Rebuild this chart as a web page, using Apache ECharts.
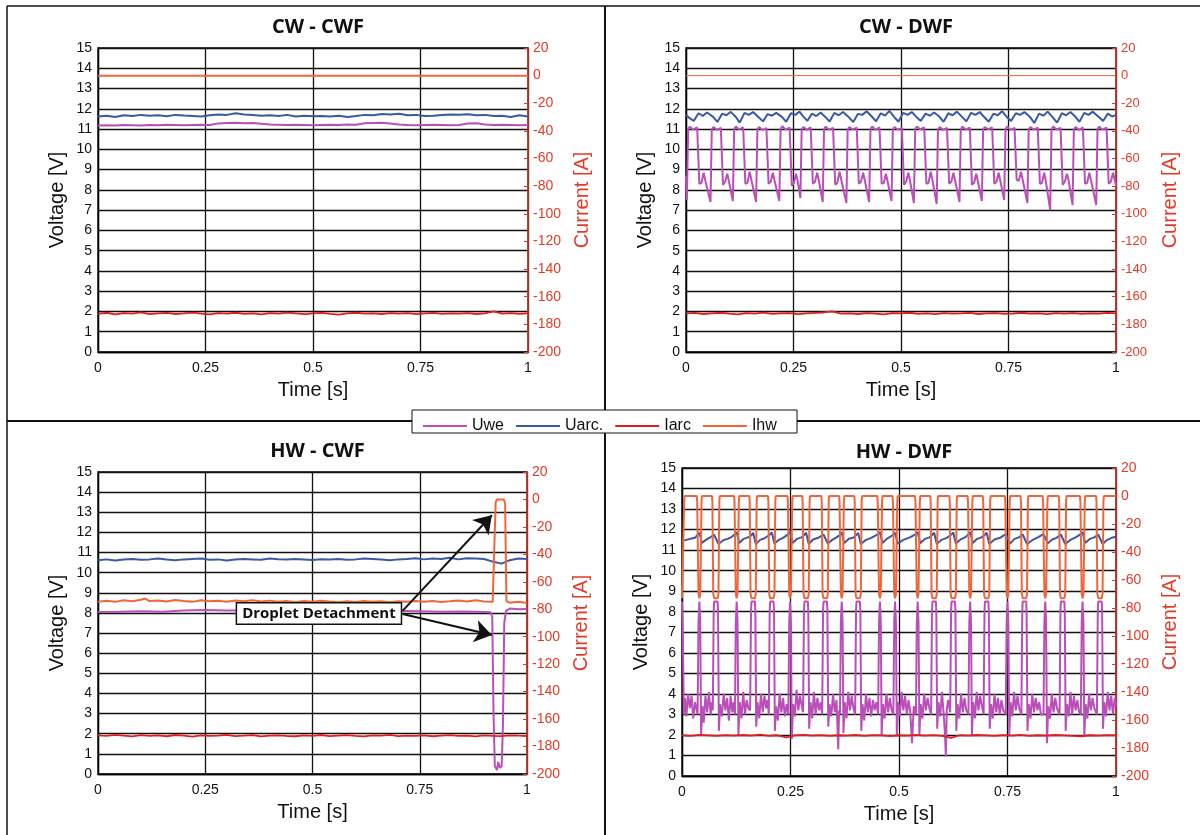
<!DOCTYPE html>
<html>
<head>
<meta charset="utf-8">
<title>Welding signals</title>
<script src="https://cdn.jsdelivr.net/npm/echarts@6/dist/echarts.min.js"></script>
<style>
html,body{margin:0;padding:0;background:#fff;}
#chart{width:1200px;height:835px;}
</style>
</head>
<body>
<div id="chart"></div>
<script>
// ---- data (time in s, voltages in V, currents in A) ----
var seriesNames = ['Uwe', 'Uarc.', 'Iarc', 'Ihw'];
var panelTitles = ['CW - CWF', 'CW - DWF', 'HW - CWF', 'HW - DWF'];

var tGrid = [0,0.02,0.04,0.06,0.08,0.1,0.12,0.14,0.16,0.18,0.2,0.22,0.24,0.26,0.28,0.3,0.32,0.34,0.36,0.38,0.4,0.42,0.44,0.46,0.48,0.5,0.52,0.54,0.56,0.58,0.6,0.62,0.64,0.66,0.68,0.7,0.72,0.74,0.76,0.78,0.8,0.82,0.84,0.86,0.88,0.9,0.92,0.94,0.96,0.98,1];

// CW - CWF
var cwcwfUwe = [11.18,11.19,11.18,11.2,11.19,11.18,11.2,11.19,11.21,11.2,11.19,11.2,11.21,11.2,11.28,11.3,11.31,11.29,11.3,11.26,11.22,11.21,11.2,11.21,11.2,11.19,11.2,11.21,11.2,11.22,11.21,11.29,11.3,11.31,11.28,11.22,11.2,11.19,11.2,11.21,11.2,11.19,11.2,11.27,11.29,11.22,11.2,11.21,11.2,11.19,11.2];
var cwcwfUarc = [11.62,11.66,11.6,11.68,11.64,11.7,11.66,11.68,11.63,11.7,11.67,11.65,11.62,11.68,11.72,11.7,11.78,11.72,11.7,11.66,11.68,11.64,11.7,11.62,11.66,11.63,11.65,11.62,11.66,11.6,11.64,11.7,11.68,11.74,11.72,11.76,11.68,11.7,11.64,11.66,11.7,11.72,11.71,11.73,11.68,11.7,11.64,11.66,11.6,11.68,11.62];
var cwcwfIarc = [-172.4,-171.6,-172.8,-171.9,-172.2,-171.4,-172.6,-172,-171.7,-172.5,-172.1,-171.5,-172.3,-172.8,-171.9,-172.2,-171.6,-172.4,-172,-172.7,-171.8,-172.3,-171.5,-172.1,-172.6,-172,-171.7,-172.4,-172.9,-172.1,-171.6,-172.3,-172,-172.5,-171.8,-172.2,-171.9,-172.6,-172.1,-171.7,-172.4,-172,-172.3,-171.8,-172.5,-172.1,-170.6,-172.2,-171.9,-172.4,-172];
var cwcwfIhw = [[0,0],[1,0]];

// CW - DWF
var cwdwfUwe = [[0,8.7],[0.002,7.5],
[0.005,11],[0.009,11.12],[0.017,10.97],[0.026,11.08],[0.029,11.14],[0.031,8.3],[0.036,8.35],[0.041,8.85],[0.045,8.45],[0.057,7.4],
[0.06,11],[0.064,11.1],[0.072,10.96],[0.081,11.06],[0.084,11.15],[0.086,8.25],[0.091,8.4],[0.096,8.8],[0.1,8.4],[0.109,7.45],
[0.112,11],[0.116,11.12],[0.124,10.98],[0.133,11.08],[0.136,11.12],[0.138,8.3],[0.143,8.35],[0.148,8.9],[0.152,8.5],[0.163,7.4],
[0.166,11],[0.17,11.1],[0.178,10.95],[0.187,11.05],[0.19,11.13],[0.192,8.3],[0.197,8.4],[0.202,8.85],[0.206,8.45],[0.217,7.45],
[0.22,11],[0.224,11.14],[0.232,10.97],[0.241,11.07],[0.244,11.12],[0.246,8.2],[0.251,8.35],[0.256,8.8],[0.26,8.4],[0.266,7.6],
[0.269,11],[0.273,11.1],[0.281,10.96],[0.29,11.08],[0.293,11.15],[0.295,8.3],[0.3,8.4],[0.305,8.85],[0.309,8.45],[0.318,7.4],
[0.321,11],[0.325,11.12],[0.333,10.97],[0.342,11.06],[0.345,11.13],[0.347,8.25],[0.352,8.35],[0.357,8.9],[0.361,8.5],[0.373,7.35],
[0.376,11],[0.38,11.1],[0.388,10.98],[0.397,11.07],[0.4,11.12],[0.402,8.3],[0.407,8.4],[0.412,8.85],[0.416,8.45],[0.426,7.4],
[0.429,11],[0.433,11.13],[0.441,10.96],[0.45,11.08],[0.453,11.14],[0.455,8.3],[0.46,8.35],[0.465,8.8],[0.469,8.4],[0.478,7.45],
[0.481,11],[0.485,11.1],[0.493,10.97],[0.502,11.06],[0.505,11.12],[0.507,8.25],[0.512,8.4],[0.517,8.85],[0.521,8.45],[0.53,7.35],
[0.533,11],[0.537,11.12],[0.545,10.98],[0.554,11.08],[0.557,11.13],[0.559,8.3],[0.564,8.35],[0.569,8.9],[0.573,8.5],[0.583,7.3],
[0.586,11],[0.59,11.1],[0.598,10.96],[0.607,11.06],[0.61,11.14],[0.612,8.3],[0.617,8.4],[0.622,8.85],[0.626,8.45],[0.636,7.4],
[0.639,11],[0.643,11.12],[0.651,10.97],[0.66,11.07],[0.663,11.12],[0.665,8.25],[0.67,8.35],[0.675,8.8],[0.679,8.4],[0.688,7.45],
[0.691,11],[0.695,11.1],[0.703,10.98],[0.712,11.08],[0.715,11.15],[0.717,8.3],[0.722,8.4],[0.727,8.85],[0.731,8.45],[0.74,7.5],
[0.743,11],[0.747,11.13],[0.755,10.96],[0.764,11.06],[0.767,11.12],[0.769,8.5],[0.774,8.45],[0.779,8.9],[0.783,8.5],[0.794,7.35],
[0.797,11],[0.801,11.1],[0.809,10.97],[0.818,11.07],[0.821,11.13],[0.823,8.3],[0.828,8.35],[0.833,8.85],[0.837,8.4],[0.847,7],
[0.85,11],[0.854,11.12],[0.862,10.98],[0.871,11.06],[0.874,11.14],[0.876,8.25],[0.881,8.4],[0.886,8.8],[0.89,8.45],[0.899,7.25],
[0.902,11],[0.906,11.1],[0.914,10.96],[0.923,11.08],[0.926,11.12],[0.928,8.3],[0.933,8.35],[0.938,8.85],[0.942,8.45],[0.954,7.25],
[0.957,11],[0.961,11.12],[0.969,10.97],[0.978,11.07],[0.981,11.13],[0.983,8.3],[0.988,8.4],[0.993,8.85],[0.997,8.5],[1,8.2]];
var cwdwfUarc = [[0,11.7],
[0.008,11.55],[0.018,11.4],[0.029,11.78],[0.039,11.65],[0.049,11.82],
[0.063,11.6],[0.073,11.35],[0.084,11.76],[0.094,11.68],[0.104,11.85],
[0.115,11.62],[0.125,11.32],[0.136,11.8],[0.146,11.7],[0.156,11.84],
[0.169,11.58],[0.179,11.38],[0.19,11.74],[0.2,11.66],[0.21,11.8],
[0.223,11.6],[0.233,11.36],[0.244,11.78],[0.254,11.7],[0.264,11.86],
[0.272,11.64],[0.282,11.4],[0.293,11.76],[0.303,11.64],[0.313,11.82],
[0.324,11.6],[0.334,11.37],[0.345,11.8],[0.355,11.68],[0.365,11.84],
[0.379,11.58],[0.389,11.35],[0.4,11.75],[0.41,11.7],[0.42,11.88],
[0.432,11.62],[0.442,11.38],[0.453,11.78],[0.463,11.66],[0.473,11.9],
[0.484,11.6],[0.494,11.36],[0.505,11.8],[0.515,11.7],[0.525,11.84],
[0.536,11.6],[0.546,11.4],[0.557,11.76],[0.567,11.66],[0.577,11.82],
[0.589,11.62],[0.599,11.36],[0.61,11.78],[0.62,11.68],[0.63,11.86],
[0.642,11.6],[0.652,11.38],[0.663,11.8],[0.673,11.7],[0.683,11.84],
[0.694,11.58],[0.704,11.36],[0.715,11.76],[0.725,11.68],[0.735,11.88],
[0.746,11.6],[0.756,11.4],[0.767,11.78],[0.777,11.7],[0.787,11.84],
[0.8,11.6],[0.81,11.3],[0.821,11.76],[0.831,11.66],[0.841,11.86],
[0.853,11.58],[0.863,11.32],[0.874,11.78],[0.884,11.68],[0.894,11.84],
[0.905,11.62],[0.915,11.36],[0.926,11.8],[0.936,11.7],[0.946,11.86],
[0.96,11.6],[0.97,11.4],[0.981,11.76],[0.991,11.62],[1,11.7]];
var cwdwfIarc = [-172.1,-171.7,-172.5,-172,-171.6,-172.3,-172.8,-171.9,-172.2,-171.5,-172.4,-172,-171.8,-172.6,-172.1,-171.7,-171.4,-170.6,-172.3,-172,-172.5,-171.8,-172.2,-172.7,-171.9,-172.1,-171.6,-172.4,-172,-172.6,-171.8,-172.3,-172.1,-171.7,-172.5,-172,-171.9,-172.4,-172.2,-171.6,-172.3,-172,-172.6,-171.9,-172.2,-171.8,-172.4,-172,-172.3,-171.7,-172.1];
var cwdwfIhw = [[0,0],[1,0]];

// HW - CWF
var hwcwfUwe = [[0,8.05],[0.05,8.06],[0.1,8.08],[0.15,8.06],[0.2,8.12],[0.25,8.14],[0.3,8.12],[0.35,8.13],[0.4,8.1],[0.45,8.11],[0.5,8.1],[0.55,8.12],[0.6,8.1],[0.65,8.11],[0.7,8.1],[0.75,8.08],[0.8,8.06],[0.85,8.07],[0.9,8.05],[0.915,8.04],[0.919,7.8],[0.922,3],[0.925,0.4],[0.93,0.2],[0.933,0.6],[0.937,0.3],[0.941,0.4],[0.944,2.5],[0.947,7.5],[0.951,8.1],[0.96,8.22],[0.98,8.18],[1,8.2]];
var hwcwfUarc = [10.62,10.66,10.6,10.65,10.68,10.64,10.66,10.7,10.65,10.62,10.66,10.68,10.7,10.64,10.66,10.6,10.65,10.68,10.66,10.64,10.7,10.67,10.65,10.68,10.66,10.63,10.67,10.65,10.68,10.64,10.66,10.7,10.68,10.65,10.62,10.66,10.68,10.72,10.66,10.7,10.68,10.74,10.66,10.72,10.7,10.68,10.55,10.45,10.62,10.7,10.68];
var hwcwfIarc = [-171.8,-172.3,-171.5,-172,-172.6,-171.7,-172.2,-171.9,-172.5,-171.6,-172.1,-172.7,-171.8,-172.3,-172,-171.5,-172.4,-172.1,-171.7,-172.6,-172,-171.8,-172.3,-172.5,-171.9,-172.2,-171.6,-172.4,-172,-171.7,-172.3,-172.6,-171.9,-172.1,-171.5,-172.4,-172,-172.2,-171.8,-172.5,-172.1,-171.7,-172.3,-172,-172.6,-171.9,-172.2,-172.4,-171.8,-172.1,-172.3];
var hwcwfIhw = [[0,-74.5],[0.02,-73.8],[0.04,-74.6],[0.06,-73.5],[0.08,-74.2],[0.1,-73],[0.11,-72.2],[0.12,-74],[0.14,-73.6],[0.16,-74.4],[0.18,-73.2],[0.2,-74],[0.22,-74.6],[0.24,-73.4],[0.26,-74.2],[0.28,-73.8],[0.3,-74.5],[0.32,-73.6],[0.34,-74.1],[0.36,-73.4],[0.38,-74.3],[0.4,-73.7],[0.42,-74.5],[0.44,-73.9],[0.46,-74.8],[0.48,-74],[0.5,-74.6],[0.52,-73.8],[0.54,-74.4],[0.56,-74.9],[0.58,-74.2],[0.6,-74.7],[0.62,-74],[0.64,-74.6],[0.66,-74.2],[0.68,-74.8],[0.7,-74.1],[0.72,-74.6],[0.74,-73.9],[0.76,-74.5],[0.78,-74],[0.8,-74.7],[0.82,-74.2],[0.84,-73.6],[0.86,-74.4],[0.88,-73.5],[0.9,-74.3],[0.92,-74.6],[0.924,-74],[0.927,-2],[0.93,0],[0.946,0],[0.949,-3],[0.952,-74],[0.96,-75.2],[0.98,-74.6],[1,-75.4]];

// HW - DWF
var hwdwfUwe = [[0,8.5],[0.002,7],[0.004,3],[0.007,3.8],[0.01,2.9],[0.014,4],[0.018,3.3],[0.022,3.9],[0.026,2.8],[0.03,3.6],
[0.036,3],[0.038,7.5],[0.04,8.5],[0.042,7.5],[0.044,2],
[0.047,3.4],[0.05,2.6],[0.054,3.9],[0.058,3.1],[0.062,4.1],[0.066,3],[0.069,3.6],
[0.071,3.2],[0.073,8],[0.074,8.5],[0.082,8.5],[0.083,8],[0.085,2.2],
[0.088,3.5],[0.092,2.9],[0.096,4],[0.1,3.2],[0.104,3.8],[0.108,2.7],[0.112,3.9],[0.116,3.1],[0.119,3.6],
[0.122,3],[0.124,7.5],[0.126,8.5],[0.128,7.5],[0.13,2],
[0.133,3.6],[0.137,2.8],[0.141,4.1],[0.145,3],[0.149,3.7],[0.153,3.3],
[0.157,3.2],[0.159,8],[0.16,8.5],[0.168,8.5],[0.169,8],[0.171,2.4],
[0.174,3.6],[0.178,2.8],[0.182,4],[0.186,3.1],[0.19,3.9],[0.194,3.3],[0.197,3.7],
[0.2,3],[0.202,8],[0.203,8.5],[0.211,8.5],[0.212,8],[0.214,2.2],
[0.217,3.4],[0.221,2.7],[0.225,4],[0.229,3.1],[0.233,3.8],[0.237,2.9],[0.241,3.5],
[0.245,3],[0.247,7.5],[0.249,8.5],[0.251,7.5],[0.253,1.8],
[0.256,3.5],[0.26,2.9],[0.264,4.2],[0.268,3.2],[0.272,3.9],[0.276,3.4],
[0.279,3.1],[0.281,8],[0.282,8.5],[0.29,8.5],[0.291,8],[0.293,2.3],
[0.296,3.6],[0.3,2.8],[0.304,4.1],[0.308,3],[0.312,3.8],[0.316,3.2],[0.32,3.6],
[0.323,3],[0.325,8],[0.326,8.5],[0.334,8.5],[0.335,8],[0.337,2.4],
[0.34,3.5],[0.344,2.9],[0.348,4],[0.352,3.1],[0.356,3.7],[0.36,1.3],[0.362,3.2],
[0.364,3],[0.366,7.5],[0.368,8.5],[0.37,7.5],[0.372,2.1],
[0.375,3.6],[0.379,2.8],[0.383,4.1],[0.387,3.2],[0.391,3.9],[0.395,3.3],
[0.399,3],[0.401,8],[0.402,8.5],[0.41,8.5],[0.411,8],[0.413,2.2],
[0.416,3.5],[0.42,2.7],[0.424,4],[0.428,3.1],[0.432,3.8],[0.436,2.9],[0.44,3.7],[0.444,3.2],[0.448,3.6],
[0.452,3],[0.454,7.5],[0.456,8.5],[0.458,7.5],[0.46,2],
[0.463,3.5],[0.467,2.8],[0.471,4],[0.475,3.1],[0.479,3.8],[0.483,3.2],
[0.487,3],[0.489,7.5],[0.491,8.5],[0.493,7.5],[0.495,2],
[0.498,3.6],[0.502,2.9],[0.506,4.1],[0.51,3.2],[0.514,3.9],[0.518,3],[0.522,3.7],[0.526,3.1],[0.53,1.6],[0.534,3.4],
[0.539,3],[0.541,7.5],[0.543,8.5],[0.545,7.5],[0.547,2],
[0.55,3.5],[0.554,2.8],[0.558,4],[0.562,3.2],[0.566,3.8],[0.57,3.3],
[0.574,3],[0.576,8],[0.577,8.5],[0.585,8.5],[0.586,8],[0.588,2.3],
[0.591,3.6],[0.595,2.9],[0.599,4.1],[0.603,3],[0.606,2],[0.608,0.95],[0.61,3.2],[0.613,3.7],
[0.618,3.1],[0.62,8],[0.621,8.5],[0.629,8.5],[0.63,8],[0.632,2.2],
[0.635,3.5],[0.639,2.8],[0.643,4],[0.647,3.1],[0.651,3.8],[0.655,3.2],
[0.66,3],[0.662,7.5],[0.664,8.5],[0.666,7.5],[0.668,2],
[0.671,3.6],[0.675,2.8],[0.679,4.1],[0.683,3.2],[0.687,3.9],[0.691,3.4],
[0.695,3],[0.697,8],[0.698,8.5],[0.706,8.5],[0.707,8],[0.709,2.3],
[0.712,3.5],[0.716,2.8],[0.72,4],[0.724,3.1],[0.728,3.8],[0.732,3],[0.736,3.7],[0.74,3.2],
[0.746,3],[0.748,7.5],[0.75,8.5],[0.752,7.5],[0.754,2],
[0.757,3.6],[0.761,2.9],[0.765,4.1],[0.769,3.2],[0.773,3.9],[0.777,3.3],
[0.782,3],[0.784,8],[0.785,8.5],[0.793,8.5],[0.794,8],[0.796,2.2],
[0.799,3.5],[0.803,2.8],[0.807,4],[0.811,3.1],[0.815,3.8],[0.819,3.2],[0.823,3.6],[0.827,3],
[0.833,3],[0.835,7.5],[0.837,8.5],[0.839,7.5],[0.841,1.6],
[0.844,3.4],[0.848,2.8],[0.852,4],[0.856,3.1],[0.86,3.8],[0.864,3.3],
[0.87,3],[0.872,8],[0.873,8.5],[0.881,8.5],[0.882,8],[0.884,2.2],
[0.887,3.5],[0.891,2.9],[0.895,4.1],[0.899,3],[0.903,3.9],[0.907,3.2],[0.911,3.7],[0.915,3.1],
[0.919,3],[0.921,7.5],[0.923,8.5],[0.925,7.5],[0.927,1.9],
[0.93,3.5],[0.934,2.8],[0.938,4],[0.942,3.2],[0.946,3.8],[0.95,3.3],
[0.956,3],[0.958,8],[0.959,8.5],[0.967,8.5],[0.968,8],[0.97,2.3],
[0.973,3.6],[0.977,2.9],[0.981,4.1],[0.985,3.2],[0.989,3.9],[0.993,3],[0.997,3.8],[1,3.4]];
var hwdwfUarc = [[0,11.45],[0.01,11.5],[0.02,11.55],[0.03,11.6],[0.036,11.75],
[0.04,11.85],[0.046,11.35],[0.055,11.5],[0.065,11.62],[0.074,11.75],
[0.078,11.82],[0.084,11.3],[0.095,11.48],[0.105,11.55],[0.115,11.65],[0.122,11.78],
[0.126,11.88],[0.132,11.35],[0.142,11.55],[0.152,11.62],[0.16,11.72],
[0.164,11.85],[0.17,11.3],[0.18,11.5],[0.19,11.58],[0.203,11.76],
[0.207,11.86],[0.213,11.32],[0.223,11.5],[0.233,11.6],[0.245,11.78],
[0.249,11.9],[0.255,11.35],[0.265,11.55],[0.275,11.62],[0.282,11.74],
[0.286,11.85],[0.292,11.3],[0.302,11.52],[0.314,11.6],[0.326,11.76],
[0.33,11.85],[0.336,11.32],[0.346,11.5],[0.356,11.62],[0.364,11.75],
[0.368,11.86],[0.374,11.34],[0.384,11.55],[0.394,11.6],[0.402,11.74],
[0.406,11.84],[0.412,11.3],[0.424,11.5],[0.436,11.6],[0.452,11.78],
[0.456,11.88],[0.462,11.35],[0.472,11.55],[0.487,11.75],
[0.491,11.85],[0.497,11.32],[0.51,11.5],[0.525,11.62],[0.539,11.78],
[0.543,11.88],[0.549,11.34],[0.56,11.55],[0.57,11.62],[0.577,11.75],
[0.581,11.85],[0.587,11.3],[0.598,11.5],[0.61,11.6],[0.621,11.76],
[0.625,11.86],[0.631,11.32],[0.642,11.52],[0.652,11.62],[0.66,11.76],
[0.664,11.88],[0.67,11.35],[0.68,11.55],[0.69,11.62],[0.698,11.75],
[0.702,11.85],[0.708,11.3],[0.72,11.52],[0.733,11.6],[0.746,11.78],
[0.75,11.86],[0.756,11.32],[0.766,11.55],[0.776,11.62],[0.785,11.76],
[0.789,11.85],[0.795,11.3],[0.808,11.5],[0.82,11.62],[0.833,11.78],
[0.837,11.86],[0.843,11.33],[0.853,11.52],[0.863,11.6],[0.873,11.76],
[0.877,11.85],[0.883,11.3],[0.895,11.5],[0.907,11.62],[0.919,11.78],
[0.923,11.88],[0.929,11.35],[0.94,11.55],[0.95,11.62],[0.959,11.76],
[0.963,11.85],[0.969,11.3],[0.98,11.5],[0.99,11.6],[1,11.65]];
var hwdwfIarc = [-170.9,-171.3,-170.6,-171,-171.4,-170.8,-171.2,-170.7,-171.1,-170.5,-171.3,-170.9,-172.4,-171,-170.6,-171.2,-170.8,-171.4,-170.9,-171.1,-170.7,-171.3,-170.8,-171,-171.5,-170.9,-171.2,-170.6,-171.1,-170.8,-171.3,-172.8,-170.9,-171.2,-170.7,-171,-171.4,-170.8,-171.1,-170.6,-171.3,-170.9,-171.2,-170.7,-171,-171.4,-171.6,-170.9,-171.1,-170.8,-171];
var hwdwfIhw = [[0,-73],[0.003,-72],[0.005,-4],[0.006,0],
[0.034,0],[0.035,-4],[0.038,-70],[0.04,-73],[0.042,-70],[0.045,-4],[0.046,0],
[0.069,0],[0.07,-4],[0.072,-70],[0.074,-73],[0.082,-73],[0.084,-70],[0.086,-4],[0.087,0],
[0.12,0],[0.121,-4],[0.124,-70],[0.126,-73],[0.128,-70],[0.131,-4],[0.132,0],
[0.155,0],[0.156,-4],[0.158,-70],[0.16,-73],[0.168,-73],[0.17,-70],[0.172,-4],[0.173,0],
[0.198,0],[0.199,-4],[0.201,-70],[0.203,-73],[0.211,-73],[0.213,-70],[0.215,-4],[0.216,0],
[0.243,0],[0.244,-4],[0.247,-70],[0.249,-73],[0.251,-70],[0.254,-4],[0.255,0],
[0.277,0],[0.278,-4],[0.28,-70],[0.282,-73],[0.29,-73],[0.292,-70],[0.294,-4],[0.295,0],
[0.321,0],[0.322,-4],[0.324,-70],[0.326,-73],[0.334,-73],[0.336,-70],[0.338,-4],[0.339,0],
[0.362,0],[0.363,-4],[0.366,-70],[0.368,-73],[0.37,-70],[0.373,-4],[0.374,0],
[0.397,0],[0.398,-4],[0.4,-70],[0.402,-73],[0.41,-73],[0.412,-70],[0.414,-4],[0.415,0],
[0.45,0],[0.451,-4],[0.454,-70],[0.456,-73],[0.458,-70],[0.461,-4],[0.462,0],
[0.485,0],[0.486,-4],[0.489,-70],[0.491,-73],[0.493,-70],[0.496,-4],[0.497,0],
[0.537,0],[0.538,-4],[0.541,-70],[0.543,-73],[0.545,-70],[0.548,-4],[0.549,0],
[0.572,0],[0.573,-4],[0.575,-70],[0.577,-73],[0.585,-73],[0.587,-70],[0.589,-4],[0.59,0],
[0.616,0],[0.617,-4],[0.619,-70],[0.621,-73],[0.629,-73],[0.631,-70],[0.633,-4],[0.634,0],
[0.658,0],[0.659,-4],[0.662,-70],[0.664,-73],[0.666,-70],[0.669,-4],[0.67,0],
[0.693,0],[0.694,-4],[0.696,-70],[0.698,-73],[0.706,-73],[0.708,-70],[0.71,-4],[0.711,0],
[0.744,0],[0.745,-4],[0.748,-70],[0.75,-73],[0.752,-70],[0.755,-4],[0.756,0],
[0.78,0],[0.781,-4],[0.783,-70],[0.785,-73],[0.793,-73],[0.795,-70],[0.797,-4],[0.798,0],
[0.831,0],[0.832,-4],[0.835,-70],[0.837,-73],[0.839,-70],[0.842,-4],[0.843,0],
[0.868,0],[0.869,-4],[0.871,-70],[0.873,-73],[0.881,-73],[0.883,-70],[0.885,-4],[0.886,0],
[0.917,0],[0.918,-4],[0.921,-70],[0.923,-73],[0.925,-70],[0.928,-4],[0.929,0],
[0.954,0],[0.955,-4],[0.957,-70],[0.959,-73],[0.967,-73],[0.969,-70],[0.971,-4],[0.972,0],
[1,0]];

// ---- helpers ----
function zip(t, v) {
	return t.map(function(x, i){ return [x, v[i]]; });
}

var colors = {uwe:'#bb4fba', uarc:'#3b58a6', iarc:'#e11f1f', ihw:'#f0663a', axisRed:'#e23a27'};
var tickFont = 'Liberation Sans, Arial, sans-serif';

var panels = [
	{box:[98, 48, 430, 304], titleTop:12, uwe:zip(tGrid, cwcwfUwe), uarc:zip(tGrid, cwcwfUarc), iarc:zip(tGrid, cwcwfIarc), ihw:cwcwfIhw, ihwWidth:2, rightFont:14},
	{box:[686, 48, 430, 304], titleTop:12, uwe:cwdwfUwe, uarc:cwdwfUarc, iarc:zip(tGrid, cwdwfIarc), ihw:cwdwfIhw, ihwWidth:1, rightFont:13},
	{box:[98, 472, 429, 302], titleTop:436, uwe:hwcwfUwe, uarc:zip(tGrid, hwcwfUarc), iarc:zip(tGrid, hwcwfIarc), ihw:hwcwfIhw, ihwWidth:2, rightFont:14},
	{box:[682, 468, 434, 308], titleTop:437, uwe:hwdwfUwe, uarc:hwdwfUarc, iarc:zip(tGrid, hwdwfIarc), ihw:hwdwfIhw, ihwWidth:2, rightFont:14}
];

var grids = [], xAxes = [], yAxes = [], titles = [], series = [];

panels.forEach(function(p, i){
	grids.push({left:p.box[0], top:p.box[1], width:p.box[2], height:p.box[3],
		show:true, borderColor:'#000', borderWidth:1.3, backgroundColor:'transparent'});

	titles.push({text:panelTitles[i], left:p.box[0] + p.box[2] / 2, top:p.titleTop, textAlign:'center',
		textStyle:{fontFamily:'Open Sans', fontWeight:'bold', fontSize:20, color:'#111'}});

	xAxes.push({type:'value', gridIndex:i, min:0, max:1, interval:0.25,
		axisLine:{show:true, lineStyle:{color:'#000', width:1.3}},
		axisTick:{show:false},
		axisLabel:{color:'#111', fontSize:14, fontFamily:tickFont, margin:9},
		splitLine:{show:true, lineStyle:{color:'#111', width:1.3}},
		name:'Time [s]', nameLocation:'middle', nameGap:28,
		nameTextStyle:{color:'#111', fontSize:20, fontFamily:tickFont}});

	yAxes.push({type:'value', gridIndex:i, min:0, max:15, interval:1, position:'left',
		axisLine:{show:true, lineStyle:{color:'#000', width:1.3}},
		axisTick:{show:false},
		axisLabel:{color:'#111', fontSize:14, fontFamily:tickFont, margin:6},
		splitLine:{show:true, lineStyle:{color:'#111', width:1.3}},
		name:'Voltage [V]', nameLocation:'middle', nameRotate:90, nameGap:31,
		nameTextStyle:{color:'#111', fontSize:20, fontFamily:tickFont}});

	yAxes.push({type:'value', gridIndex:i, min:-200, max:20, interval:20, position:'right',
		axisLine:{show:true, lineStyle:{color:colors.axisRed, width:1.5}},
		axisTick:{show:true, length:4, inside:true, lineStyle:{color:colors.axisRed}},
		axisLabel:{color:colors.axisRed, fontSize:p.rightFont, fontFamily:tickFont, margin:5},
		splitLine:{show:false},
		name:'Current [A]', nameLocation:'middle', nameRotate:90, nameGap:44,
		nameTextStyle:{color:colors.axisRed, fontSize:20, fontFamily:tickFont}});

	var base = {type:'line', xAxisIndex:i, showSymbol:false, symbol:'none', animation:false};
	series.push(Object.assign({}, base, {name:'Uwe', yAxisIndex:2*i, data:p.uwe,
		lineStyle:{color:colors.uwe, width:2}, itemStyle:{color:colors.uwe}}));
	series.push(Object.assign({}, base, {name:'Uarc.', yAxisIndex:2*i, data:p.uarc,
		lineStyle:{color:colors.uarc, width:2}, itemStyle:{color:colors.uarc}}));
	series.push(Object.assign({}, base, {name:'Iarc', yAxisIndex:2*i+1, data:p.iarc,
		lineStyle:{color:colors.iarc, width:1.8}, itemStyle:{color:colors.iarc}}));
	series.push(Object.assign({}, base, {name:'Ihw', yAxisIndex:2*i+1, data:p.ihw,
		lineStyle:{color:colors.ihw, width:p.ihwWidth}, itemStyle:{color:colors.ihw}}));
});

// droplet detachment callout on the HW - CWF panel (voltage axis coordinates)
var callout = series[8];
callout.markLine = {
	silent:true, animation:false, symbol:['none', 'arrow'], symbolSize:17,
	label:{show:false},
	lineStyle:{color:'#111', width:2, type:'solid'},
	data:[
		[{coord:[0.71, 8.1]}, {coord:[0.918, 12.85]}],
		[{coord:[0.71, 7.95]}, {coord:[0.918, 6.9]}]
	]
};
callout.markPoint = {
	silent:true, animation:false,
	data:[{coord:[0.515, 7.97], symbol:'rect', symbolSize:1, itemStyle:{color:'rgba(0,0,0,0)'},
		label:{show:true, position:'inside', formatter:'Droplet Detachment', color:'#111',
			fontFamily:'Open Sans', fontWeight:'bold', fontSize:15,
			backgroundColor:'#fff', borderColor:'#111', borderWidth:1.5, padding:[3, 5, 2, 5]}}]
};

var chart = echarts.init(document.getElementById('chart'), null, {renderer:'canvas'});
chart.setOption({
	animation:false,
	backgroundColor:'#fff',
	title:titles,
	grid:grids,
	xAxis:xAxes,
	yAxis:yAxes,
	series:series,
	legend:{data:seriesNames, left:418, top:413, icon:'rect', itemWidth:44, itemHeight:2, itemGap:12,
		z:20, textStyle:{color:'#111', fontSize:16, fontFamily:tickFont}},
	graphic:[
		{type:'line', z:1, shape:{x1:7, y1:6, x2:1200, y2:6}, style:{stroke:'#111', lineWidth:1.5}},
		{type:'line', z:1, shape:{x1:7, y1:6, x2:7, y2:835}, style:{stroke:'#111', lineWidth:1.5}},
		{type:'line', z:1, shape:{x1:605, y1:6, x2:605, y2:835}, style:{stroke:'#111', lineWidth:2}},
		{type:'line', z:1, shape:{x1:7, y1:421, x2:1200, y2:421}, style:{stroke:'#111', lineWidth:2}},
		{type:'rect', z:10, shape:{x:412, y:410, width:385, height:23}, style:{fill:'#fff', stroke:'#111', lineWidth:1}}
	]
});
</script>
</body>
</html>
